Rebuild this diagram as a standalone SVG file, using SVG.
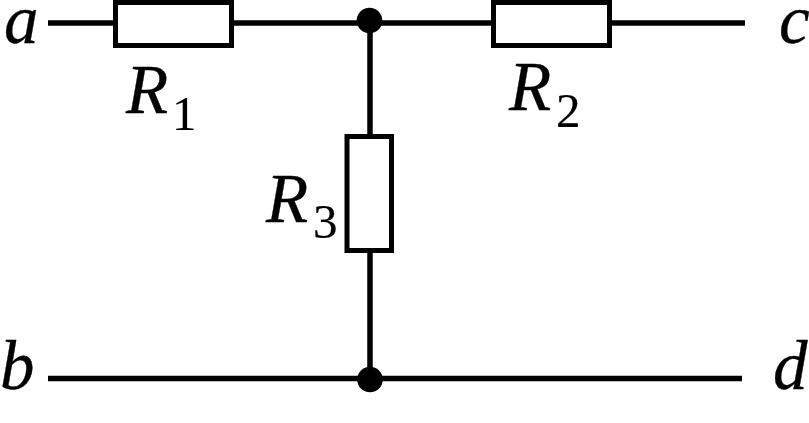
<svg xmlns="http://www.w3.org/2000/svg" width="809" height="423" viewBox="0 0 809 423">
<style>
.w{stroke:#000;stroke-width:5.500;fill:none}
.r{stroke:#000;stroke-width:5;fill:#fff}
.t{font-family:'Liberation Serif',serif;font-style:italic;font-size:69px;fill:#000;stroke:#000;stroke-width:.35}
.s{font-family:'Liberation Serif',serif;font-size:49px;fill:#000;stroke:#000;stroke-width:.2}
</style>
<rect width="809" height="423" fill="#fff"/>
<g id="connectors">
<path class="w" d="M48 23H115M232 23H493M610 23H745M370 22V135M370 252V379M48 378.500H742"/>
</g>
<g id="R1"><rect class="r" x="115.500" y="2.500" width="116" height="43"/><text class="t" x="126" y="113">R</text><text class="s" x="172" y="130">1</text></g>
<g id="R2"><rect class="r" x="493.500" y="2.500" width="116" height="43"/><text class="t" x="509" y="110">R</text><text class="s" x="556" y="127">2</text></g>
<g id="R3"><rect class="r" x="347" y="136.500" width="44.500" height="114"/><text class="t" x="266" y="222">R</text><text class="s" x="313" y="238">3</text></g>
<g id="J1"><circle cx="369.500" cy="20.500" r="12.800"/></g>
<g id="J2"><circle cx="370" cy="379.500" r="12.800"/></g>
<g id="a"><text class="t" x="4" y="43">a</text></g>
<g id="b"><text class="t" x="0" y="389">b</text></g>
<g id="c"><text class="t" x="779" y="43">c</text></g>
<g id="d"><text class="t" x="773" y="389">d</text></g>
</svg>
